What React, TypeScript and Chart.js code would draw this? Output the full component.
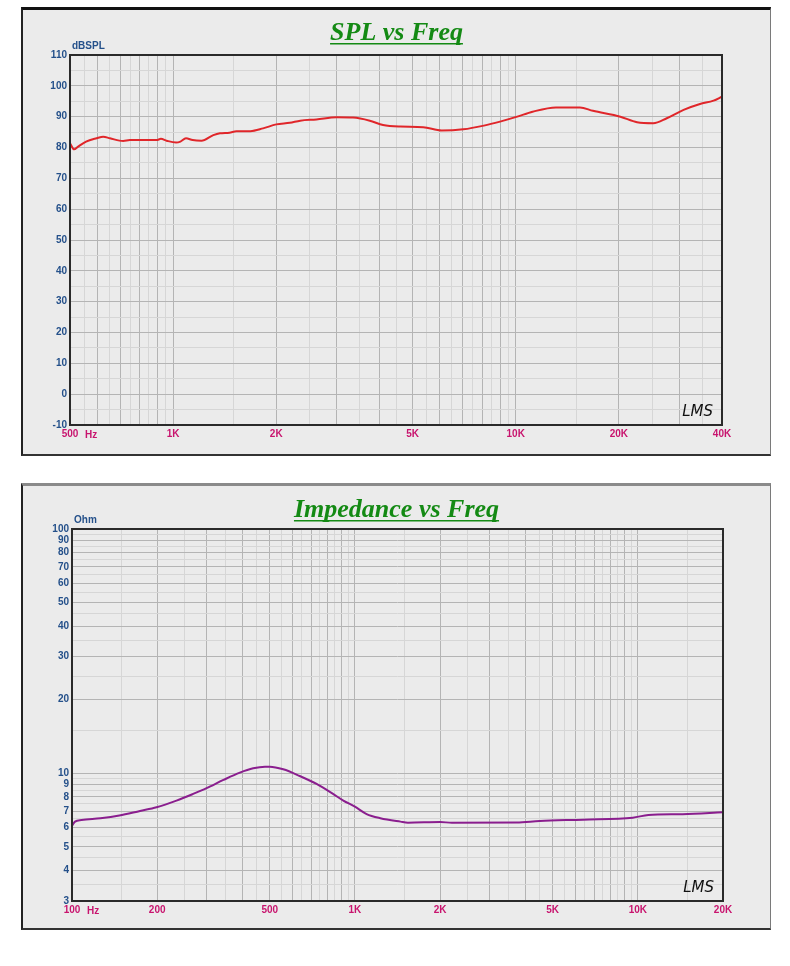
import { useEffect, useRef } from 'react'
import Chart from 'chart.js/auto'

// ─── SPL data (Hz / dBSPL) ──────────────────────────────────────────────────────
const splFreq = [
  500, 514, 528, 557, 598, 625, 654, 715, 748, 895, 921, 957, 1020, 1050, 1090, 1140, 1210, 1310, 1370, 1460,
  1530, 1680, 1830, 2000, 2190, 2350, 2620, 3000, 3350, 3750, 4100, 4600, 5370, 6080, 7030, 8070, 9000, 10100,
  11200, 13100, 15400, 16800, 20200, 22600, 25200, 27600, 30900, 34500, 37800, 40000,
]
const splDb = [
  81.4, 79.4, 80.3, 81.9, 83.0, 83.5, 83.0, 82.1, 82.4, 82.4, 82.8, 82.2, 81.6, 81.9, 83.0, 82.4, 82.2, 84.0, 84.6,
  84.8, 85.3, 85.3, 86.2, 87.5, 88.0, 88.7, 89.1, 89.8, 89.7, 88.7, 87.3, 86.8, 86.6, 85.5, 85.9, 87.1, 88.4, 90.0,
  91.6, 93.0, 93.0, 91.9, 90.0, 88.2, 87.9, 89.5, 92.2, 94.1, 95.2, 96.5,
]

// ─── Impedance data (Hz / Ohm) ──────────────────────────────────────────────────
const impFreq = [
  100, 102.5, 108, 126, 147, 174, 199, 234, 268, 299, 343, 392, 437, 481, 500, 558, 638, 732, 837, 910, 1000,
  1100, 1230, 1450, 1540, 2000, 2200, 3730, 4500, 6400, 9600, 10900, 14400, 20000,
]
const impOhm = [
  6.09, 6.34, 6.44, 6.54, 6.71, 7.01, 7.26, 7.73, 8.23, 8.69, 9.39, 10.06, 10.48, 10.64, 10.64, 10.38, 9.75, 9.04,
  8.23, 7.73, 7.3, 6.81, 6.55, 6.34, 6.28, 6.31, 6.28, 6.29, 6.38, 6.46, 6.58, 6.75, 6.8, 6.92,
]

// ─── tick labels ────────────────────────────────────────────────────────────────
const splXLabels: [number, string][] = [
  [500, '500'], [1000, '1K'], [2000, '2K'], [5000, '5K'], [10000, '10K'], [20000, '20K'], [40000, '40K'],
]
const splYLabels = [-10, 0, 10, 20, 30, 40, 50, 60, 70, 80, 90, 100, 110]
const impXLabels: [number, string][] = [
  [100, '100'], [200, '200'], [500, '500'], [1000, '1K'], [2000, '2K'], [5000, '5K'], [10000, '10K'], [20000, '20K'],
]
const impYLabels = [3, 4, 5, 6, 7, 8, 9, 10, 20, 30, 40, 50, 60, 70, 80, 90, 100]

const C = {
  gridDark: '#b4b4b4',
  gridLight: '#d6d6d6',
  yText: '#24508a',
  xText: '#c8146e',
  title: '#148a14',
  frame: '#2a2a2a',
  font: '"Liberation Sans", Arial, sans-serif',
}

// сетка «полдекады»: в каждой декаде шаг d/2, тёмные линии на кратных d
function logGrid(min: number, max: number) {
  const out: number[] = []
  let d = Math.pow(10, Math.floor(Math.log10(min)))
  while (d < max * 1.0001) {
    for (let v = d; v < d * 10 - 1e-9; v += d / 2) {
      if (v >= min - 1e-9 && v <= max + 1e-9) out.push(+v.toPrecision(6))
    }
    d *= 10
  }
  if (out[out.length - 1] !== max) out.push(max)
  return out
}
const isLogMajor = (v: number) => {
  const d = Math.pow(10, Math.floor(Math.log10(v) + 1e-9))
  return Math.abs(v / d - Math.round(v / d)) < 1e-6
}

const decor = {
  id: 'decor',
  afterDraw(chart: any, _args: any, opts: any) {
    const { ctx, chartArea: a, width } = chart
    ctx.save()
    // рамка области графика
    ctx.strokeStyle = C.frame
    ctx.lineWidth = 2
    ctx.strokeRect(a.left, a.top, a.right - a.left, a.bottom - a.top)
    // заголовок с подчёркиванием
    ctx.font = 'italic bold 26px "Liberation Serif", "DejaVu Serif", serif'
    ctx.fillStyle = C.title
    ctx.textAlign = 'center'
    ctx.textBaseline = 'alphabetic'
    ctx.fillText(opts.title, width / 2, opts.titleY)
    const tw = ctx.measureText(opts.title).width
    ctx.fillRect(width / 2 - tw / 2, opts.titleY + 3, tw, 1.5)
    // единица оси
    ctx.textAlign = 'left'
    ctx.font = `bold 10px ${C.font}`
    ctx.fillStyle = C.yText
    ctx.fillText(opts.unit, a.left + 2, a.top - 6)
    ctx.fillStyle = C.xText
    ctx.fillText('Hz', a.left + 15, a.bottom + 12.5)
    // подпись LMS
    ctx.textAlign = 'right'
    ctx.fillStyle = '#111'
    ctx.font = 'italic 15px "DejaVu Sans", sans-serif'
    ctx.fillText('LMS', a.right - 9, a.bottom - 9)
    ctx.restore()
  },
}

type PlotProps = {
  width: number
  height: number
  title: string
  titleY: number
  unit: string
  freq: number[]
  values: number[]
  color: string
  xMin: number
  xMax: number
  xLabels: [number, string][]
  yLog: boolean
  yMin: number
  yMax: number
  yLabels: number[]
  pad: { left: number; top: number; right: number; bottom: number }
}

function FreqPlot(p: PlotProps) {
  const canvasRef = useRef<HTMLCanvasElement>(null)

  useEffect(() => {
    const canvas = canvasRef.current
    if (!canvas) return
    const xGrid = logGrid(p.xMin, p.xMax)
    const yGrid = p.yLog
      ? logGrid(p.yMin, p.yMax)
      : Array.from({ length: Math.round((p.yMax - p.yMin) / 5) + 1 }, (_, i) => p.yMin + i * 5)
    const yMajor = (v: number) => (p.yLog ? isLogMajor(v) : v % 10 === 0)
    const xLabelMap = new Map(p.xLabels)

    const chart = new Chart(canvas, {
      type: 'line',
      data: {
        datasets: [
          {
            data: p.freq.map((f, i) => ({ x: f, y: p.values[i] })),
            borderColor: p.color,
            borderWidth: 2,
            pointRadius: 0,
            cubicInterpolationMode: 'monotone',
            fill: false,
          },
        ],
      },
      plugins: [decor],
      options: {
        responsive: false,
        animation: false,
        layout: { padding: p.pad },
        plugins: {
          legend: { display: false },
          tooltip: { enabled: false },
          decor: { title: p.title, titleY: p.titleY, unit: p.unit },
        } as any,
        scales: {
          x: {
            type: 'logarithmic',
            min: p.xMin,
            max: p.xMax,
            afterBuildTicks: (s: any) => {
              s.ticks = xGrid.map((v) => ({ value: v }))
            },
            afterFit: (s: any) => {
              s.height = 24
            },
            grid: {
              drawTicks: false,
              color: (ctx: any) => (ctx.tick && isLogMajor(ctx.tick.value) ? C.gridDark : C.gridLight),
            },
            border: { display: false },
            ticks: {
              autoSkip: false,
              maxRotation: 0,
              padding: 3,
              color: C.xText,
              font: { size: 10, weight: 'bold', family: C.font },
              callback: (v: any) => xLabelMap.get(Number(v)) ?? '',
            },
          },
          y: {
            type: p.yLog ? 'logarithmic' : 'linear',
            min: p.yMin,
            max: p.yMax,
            afterBuildTicks: (s: any) => {
              s.ticks = yGrid.map((v) => ({ value: v }))
            },
            afterFit: (s: any) => {
              s.width = 40
            },
            grid: {
              drawTicks: false,
              color: (ctx: any) => (ctx.tick && yMajor(ctx.tick.value) ? C.gridDark : C.gridLight),
            },
            border: { display: false },
            ticks: {
              autoSkip: false,
              padding: 3,
              color: C.yText,
              font: { size: 10, weight: 'bold', family: C.font },
              callback: (v: any) => (p.yLabels.includes(Number(v)) ? String(v) : ''),
            },
          },
        },
      } as any,
    })
    return () => chart.destroy()
  }, [p])

  return <canvas ref={canvasRef} width={p.width} height={p.height} />
}

const panelBase: React.CSSProperties = {
  position: 'absolute',
  left: 21,
  width: 750,
  boxSizing: 'border-box',
  background: '#ebebeb',
  borderLeft: '2px solid #222',
  borderRight: '1px solid #7a7a7a',
  borderBottom: '2px solid #333',
}

const splProps: PlotProps = {
  width: 747,
  height: 444,
  title: 'SPL vs Freq',
  titleY: 30,
  unit: 'dBSPL',
  freq: splFreq,
  values: splDb,
  color: '#e0262a',
  xMin: 500,
  xMax: 40000,
  xLabels: splXLabels,
  yLog: false,
  yMin: -10,
  yMax: 110,
  yLabels: splYLabels,
  pad: { left: 7, top: 45, right: 48, bottom: 5 },
}

const impProps: PlotProps = {
  width: 747,
  height: 442,
  title: 'Impedance vs Freq',
  titleY: 31,
  unit: 'Ohm',
  freq: impFreq,
  values: impOhm,
  color: '#8a1e8e',
  xMin: 100,
  xMax: 20000,
  xLabels: impXLabels,
  yLog: true,
  yMin: 3,
  yMax: 100,
  yLabels: impYLabels,
  pad: { left: 9, top: 43, right: 47, bottom: 3 },
}

export default function App() {
  return (
    <div>
      <div style={{ ...panelBase, top: 7, height: 449, borderTop: '3px solid #111' }}>
        <FreqPlot {...splProps} />
      </div>
      <div style={{ ...panelBase, top: 483, height: 447, borderTop: '3px solid #8a8a8a' }}>
        <FreqPlot {...impProps} />
      </div>
    </div>
  )
}
